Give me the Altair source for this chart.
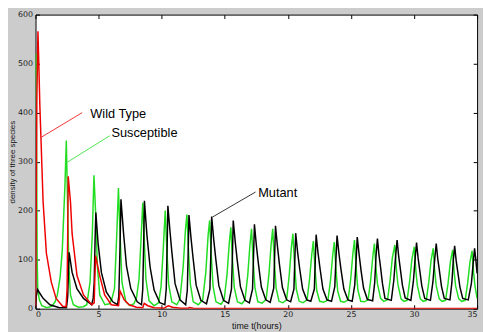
import altair as alt
import pandas as pd

x_ticks = [0, 5, 10, 15, 20, 25, 30, 35]
y_ticks = [0, 100, 200, 300, 400, 500, 600]

# Susceptible (green)
sus_t = [0.0, 0.04, 0.09, 0.13, 0.18, 0.3, 0.5, 0.9, 1.3, 1.55, 1.73, 1.95, 2.12, 2.33, 2.44, 2.56, 2.64, 2.77, 3.0, 3.4, 3.8,
         4.06, 4.32, 4.5, 4.63, 4.78, 4.9, 5.09, 5.5, 5.85, 6.05, 6.26, 6.44, 6.57, 6.7, 6.85, 7.16, 7.5, 7.8,
         8.0, 8.2, 8.35, 8.5, 8.62, 8.75, 9.0, 9.4,
         9.75, 9.95, 10.12, 10.28, 10.4, 10.55, 10.8, 11.2,
         11.45, 11.7, 11.88, 12.0, 12.12, 12.27, 12.5, 12.9,
         13.25, 13.5, 13.68, 13.8, 13.92, 14.07, 14.3, 14.7,
         14.95, 15.18, 15.36, 15.48, 15.6, 15.75, 16.0, 16.35,
         16.6, 16.82, 17.0, 17.12, 17.24, 17.39, 17.62, 17.95,
         18.28, 18.5, 18.68, 18.8, 18.92, 19.07, 19.3, 19.6,
         19.9, 20.1, 20.28, 20.4, 20.52, 20.67, 20.9, 21.2,
         21.52, 21.72, 21.9, 22.02, 22.14, 22.29, 22.52, 22.85,
         23.18, 23.38, 23.56, 23.68, 23.8, 23.95, 24.18, 24.45,
         24.78, 24.98, 25.16, 25.28, 25.4, 25.55, 25.78, 26.05,
         26.36, 26.56, 26.74, 26.86, 26.98, 27.1, 27.35, 27.6,
         27.9, 28.1, 28.28, 28.48, 28.6, 28.72, 28.97, 29.2,
         29.45, 29.65, 29.83, 30.02, 30.14, 30.26, 30.5, 30.72,
         30.97, 31.17, 31.35, 31.52, 31.64, 31.76, 32.0, 32.22,
         32.5, 32.7, 32.88, 33.06, 33.18, 33.3, 33.55, 33.78,
         34.05, 34.25, 34.43, 34.6, 34.72, 34.84, 35.0]
sus_v = [480, 520, 300, 100, 40, 18, 6, 2, 5, 14, 28, 65, 120, 251, 343, 186, 87, 28, 8, 3, 4,
         8, 54, 153, 272, 186, 87, 28, 8, 10, 20, 41, 153, 246, 153, 54, 14, 6, 10,
         22, 60, 135, 216, 140, 60, 16, 6,
         12, 45, 120, 200, 125, 50, 14, 8,
         20, 84, 160, 192, 120, 50, 14, 8,
         18, 75, 150, 180, 112, 46, 14, 9,
         18, 70, 135, 166, 104, 44, 14, 10,
         18, 68, 132, 163, 102, 43, 14, 11,
         19, 70, 133, 163, 100, 42, 15, 12,
         18, 66, 125, 153, 95, 40, 15, 12,
         18, 60, 112, 138, 86, 37, 15, 13,
         18, 58, 110, 136, 85, 36, 15, 13,
         18, 60, 114, 140, 88, 38, 15, 14,
         18, 57, 108, 133, 84, 51, 21, 15,
         18, 57, 103, 130, 82, 50, 20, 15,
         17, 55, 100, 126, 79, 48, 20, 15,
         17, 54, 98, 123, 77, 47, 20, 15,
         17, 52, 95, 120, 75, 46, 20, 15,
         17, 52, 94, 118, 74, 45, 21]

# Mutant (black)
mut_t = [0.0, 0.06, 0.16, 0.3, 0.6, 1.14, 1.9, 2.45, 2.55, 2.62, 2.66, 2.9, 3.28, 3.8, 4.45,
         4.57, 4.65, 4.72, 4.78, 4.96, 5.22, 5.61, 6.12, 6.5,
         6.6, 6.7, 6.77, 6.98, 7.21, 7.55, 8.06, 8.4,
         8.5, 8.57, 8.63, 8.83, 9.08, 9.4, 9.85, 10.25,
         10.36, 10.43, 10.49, 10.65, 10.8, 11.06, 11.45, 11.9,
         12.03, 12.1, 12.16, 12.32, 12.48, 12.73, 13.1, 13.55,
         13.82, 13.9, 13.96, 14.12, 14.28, 14.53, 14.9, 15.3,
         15.53, 15.61, 15.67, 15.83, 15.99, 16.24, 16.6, 16.95,
         17.2, 17.28, 17.35, 17.5, 17.66, 17.9, 18.25, 18.6,
         18.88, 18.95, 19.02, 19.17, 19.33, 19.57, 19.9, 20.22,
         20.48, 20.55, 20.62, 20.77, 20.93, 21.17, 21.5, 21.82,
         22.1, 22.17, 22.24, 22.39, 22.55, 22.78, 23.1, 23.46,
         23.72, 23.8, 23.9, 24.05, 24.21, 24.44, 24.76, 25.1,
         25.3, 25.4, 25.5, 25.65, 25.8, 26.0, 26.3, 26.72,
         26.88, 26.99, 27.1, 27.22, 27.35, 27.5, 27.7, 28.2,
         28.4, 28.55, 28.66, 28.78, 28.92, 29.08, 29.3, 29.75,
         29.95, 30.1, 30.2, 30.32, 30.46, 30.62, 30.85, 31.3,
         31.5, 31.65, 31.76, 31.88, 32.02, 32.18, 32.4, 32.85,
         33.0, 33.12, 33.22, 33.34, 33.48, 33.64, 33.86, 34.3,
         34.55, 34.7, 34.8, 34.9, 35.0]
mut_v = [2, 25, 39, 33, 21, 8, 2, 2, 25, 85, 115, 74, 41, 21, 8,
         21, 54, 140, 196, 133, 74, 34, 14, 8,
         25, 130, 223, 153, 87, 41, 14, 8,
         40, 130, 220, 150, 85, 38, 12, 8,
         40, 125, 210, 160, 117, 51, 18, 8,
         38, 115, 191, 145, 105, 48, 17, 10,
         40, 115, 188, 142, 103, 47, 17, 11,
         40, 112, 180, 136, 98, 45, 17, 12,
         40, 108, 172, 130, 93, 44, 18, 13,
         42, 106, 169, 128, 91, 43, 18, 14,
         40, 98, 154, 116, 83, 40, 18, 15,
         40, 96, 151, 114, 82, 40, 18, 15,
         45, 95, 149, 112, 80, 40, 18, 15,
         48, 94, 146, 110, 78, 42, 19, 16,
         52, 108, 143, 110, 84, 51, 21, 17,
         58, 110, 140, 108, 80, 48, 22, 17,
         56, 106, 135, 104, 77, 46, 21, 17,
         55, 104, 133, 102, 76, 45, 21, 18,
         53, 100, 128, 98, 73, 44, 21, 18,
         52, 96, 123, 100, 72]

# Wild Type (red)
wild_t = [0.0, 0.05, 0.1, 0.19, 0.26, 0.34, 0.6, 0.86, 1.25, 1.63, 2.15, 2.42, 2.5, 2.55, 2.59, 2.77,
          2.9, 3.29, 3.8, 4.45, 4.65, 4.7, 4.76, 5.09, 5.48, 6.0, 6.58, 6.64, 6.7, 7.03, 7.42, 8.0,
          8.5, 8.57, 8.62, 8.9, 9.4, 10.2, 10.45, 10.55, 10.85, 11.5, 12.1, 12.2, 12.5, 13.5, 20.0, 35.0]
wild_v = [5, 180, 420, 566, 500, 416, 218, 113, 54, 21, 5, 4, 40, 150, 270, 218,
          153, 67, 28, 8, 12, 60, 108, 67, 28, 8, 6, 20, 36, 18, 8, 3,
          2, 8, 11, 6, 2, 1, 5, 6, 3, 1, 1, 2.5, 1, 0.5, 0.3, 0.3]

# annotations
ann_text = ["Wild Type", "Susceptible", "Mutant"]
ann_tx = [4.34, 6.02, 17.65]
ann_ty = [398, 358, 235]
lead_x1 = [0.47, 2.53, 14.03]
lead_y1 = [350, 299, 187]
lead_x2 = [3.70, 5.89, 17.44]
lead_y2 = [400, 353, 238]
lead_col = ["#ee0000", "#22dd22", "#000000"]

W, H = 449, 299

xs = alt.Scale(domain=[0, 35], nice=False, zero=False)
ys = alt.Scale(domain=[0, 600], nice=False)

sus_df = pd.DataFrame({"t": sus_t, "v": sus_v})
mut_df = pd.DataFrame({"t": mut_t, "v": mut_v})
wild_df = pd.DataFrame({"t": wild_t, "v": wild_v})
ann_df = pd.DataFrame({"label": ann_text, "tx": ann_tx, "ty": ann_ty})
lead_df = pd.DataFrame({"x1": lead_x1, "y1": lead_y1, "x2": lead_x2, "y2": lead_y2, "c": lead_col})

x_lab_axis = alt.Axis(values=x_ticks, title="time t(hours)", tickSize=0, labelPadding=2, domain=False,
                      grid=False, labelFont="DejaVu Sans", labelFontSize=8, labelColor="#222",
                      titleFont="Liberation Sans", titleFontSize=9, titleFontWeight="normal",
                      titleColor="#111", titlePadding=3)
y_lab_axis = alt.Axis(values=y_ticks, title="density of three species", tickSize=0, labelPadding=3,
                      domain=False, grid=False, labelFont="DejaVu Sans", labelFontSize=8,
                      labelColor="#222", titleFont="Liberation Sans", titleFontSize=8,
                      titleFontWeight="normal", titleColor="#111", titlePadding=1)

def tick_axis(vals, orient, offset):
    return alt.Axis(values=vals, orient=orient, offset=offset, labels=False, title="", tickSize=4,
                    tickColor="#000", tickWidth=1, domain=False, grid=False)

sus = alt.Chart(sus_df).mark_line(color="#22dd22", strokeWidth=1.5, clip=True).encode(
    x=alt.X("t:Q", scale=xs, axis=x_lab_axis),
    y=alt.Y("v:Q", scale=ys, axis=y_lab_axis),
)
mut = alt.Chart(mut_df).mark_line(color="#000000", strokeWidth=1.5, clip=True).encode(
    x=alt.X("t:Q", scale=xs, axis=None),
    y=alt.Y("v:Q", scale=ys, axis=None),
)
wild = alt.Chart(wild_df).mark_line(color="#ee0000", strokeWidth=1.5, clip=True).encode(
    x=alt.X("t:Q", scale=xs, axis=None),
    y=alt.Y("v:Q", scale=ys, axis=None),
)
leads = alt.Chart(lead_df).mark_rule(strokeWidth=0.8).encode(
    x=alt.X("x1:Q", scale=xs, axis=None),
    y=alt.Y("y1:Q", scale=ys, axis=None),
    x2="x2:Q",
    y2="y2:Q",
    color=alt.Color("c:N", scale=None),
)
labels = alt.Chart(ann_df).mark_text(align="left", baseline="middle", font="Liberation Sans",
                                     fontSize=13, color="#000").encode(
    x=alt.X("tx:Q", scale=xs, axis=None),
    y=alt.Y("ty:Q", scale=ys, axis=None),
    text="label:N",
)
ticks_a = alt.Chart(sus_df).mark_line(strokeOpacity=0).encode(
    x=alt.X("t:Q", scale=xs, axis=tick_axis(x_ticks, "top", -H)),
    y=alt.Y("v:Q", scale=ys, axis=tick_axis(y_ticks, "right", -W)),
)
ticks_b = alt.Chart(sus_df).mark_line(strokeOpacity=0).encode(
    x=alt.X("t:Q", scale=xs, axis=tick_axis(x_ticks, "bottom", -H)),
    y=alt.Y("v:Q", scale=ys, axis=tick_axis(y_ticks, "left", -W)),
)

chart = alt.layer(sus, mut, wild, leads, labels, ticks_a, ticks_b).resolve_axis(
    x="independent", y="independent"
).properties(
    width=W, height=H,
    padding={"left": 28, "top": 4, "right": 6, "bottom": 21},
    autosize=alt.AutoSizeParams(type="none"),
    background="#cccccc",
).configure_view(fill="white", stroke="#000", strokeWidth=1)

chart.save("out.html", embed_options={"renderer": "svg", "actions": False})
